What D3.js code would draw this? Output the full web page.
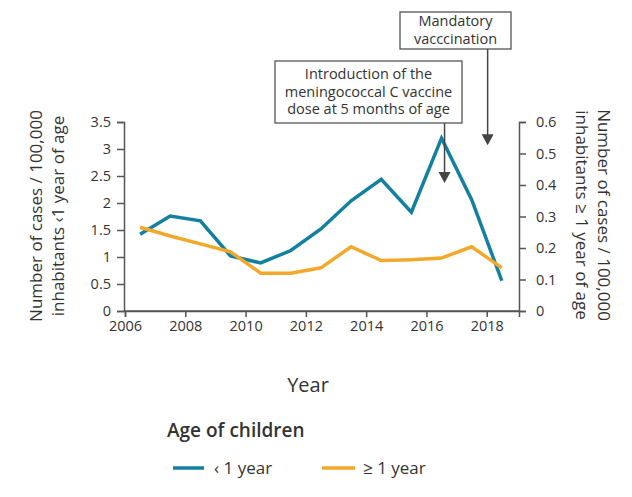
<!DOCTYPE html>
<html><head><meta charset="utf-8">
<script src="https://cdn.jsdelivr.net/npm/d3@7"></script>
<style>body{margin:0;background:#fff}svg{display:block;font-family:"Open Sans","Noto Sans",sans-serif}</style>
</head><body>
<svg id="c" width="632" height="497"></svg>
<script>
const years = [2006,2007,2008,2009,2010,2011,2012,2013,2014,2015,2016,2017,2018];
const under1 = [1.42,1.76,1.67,1.02,0.89,1.12,1.52,2.04,2.44,1.83,3.20,2.06,0.56];
const over1 = [0.266,0.238,0.213,0.188,0.12,0.12,0.137,0.204,0.16,0.163,0.168,0.204,0.137];
const xTicks = [2006,2008,2010,2012,2014,2016,2018];
const leftTicks = [0,0.5,1,1.5,2,2.5,3,3.5];
const rightTicks = [0,0.1,0.2,0.3,0.4,0.5,0.6];
const seriesNames = ["‹ 1 year","≥ 1 year"];
const colors = ["#12809e","#f2a92b"];
const annotations = [
  {lines:["Introduction of the","meningococcal C vaccine","dose at 5 months of age"], year:2016.6, tip:2.37},
  {lines:["Mandatory","vacccination"], year:2018.03, tip:3.07}
];

const svg = d3.select("#c");
const x = d3.scaleLinear().domain([2006,2019.07]).range([125,519]);
const yL = d3.scaleLinear().domain([0,3.5]).range([311,122]);
const yR = d3.scaleLinear().domain([0,0.6]).range([311,122]);
const axisCol = "#555", txtCol = "#333";

function styleAxis(g){
  g.attr("font-family",null).attr("font-size",null);
  g.selectAll("path,line").attr("stroke",axisCol).attr("stroke-width",1.5);
  g.selectAll("text").attr("fill",txtCol).style("font-size","14.5px");
}
svg.append("g").attr("transform","translate(0,311)")
  .call(d3.axisBottom(x).tickValues(xTicks).tickFormat(d3.format("d")).tickSizeOuter(0).tickSize(6).tickPadding(4))
  .call(styleAxis);
svg.append("g").attr("transform","translate(124,0)")
  .call(d3.axisLeft(yL).tickValues(leftTicks).tickFormat(d=>String(d)).tickSizeOuter(0).tickSize(7).tickPadding(6))
  .call(styleAxis);
svg.append("g").attr("transform","translate(519,0)")
  .call(d3.axisRight(yR).tickValues(rightTicks).tickFormat(d=>String(d)).tickSizeOuter(0).tickSize(7).tickPadding(10))
  .call(styleAxis);
svg.append("line").attr("x1",124).attr("x2",519).attr("y1",311).attr("y2",311).attr("stroke",axisCol).attr("stroke-width",1.5);

const lineL = d3.line().x((d,i)=>x(years[i]+0.5)).y(d=>yL(d));
const lineR = d3.line().x((d,i)=>x(years[i]+0.5)).y(d=>yR(d));
svg.append("path").datum(under1).attr("d",lineL).attr("fill","none").attr("stroke",colors[0]).attr("stroke-width",3.5);
svg.append("path").datum(over1).attr("d",lineR).attr("fill","none").attr("stroke",colors[1]).attr("stroke-width",3.5);

const boxes = [{x:275,y:61,w:187,h:62,ty:74},{x:400,y:12,w:111,h:37,ty:21}];
annotations.forEach((a,k)=>{
  const b = boxes[k], ax = x(a.year), tipY = yL(a.tip);
  svg.append("line").attr("x1",ax).attr("x2",ax).attr("y1",b.y+b.h).attr("y2",tipY-10).attr("stroke","#444").attr("stroke-width",1.5);
  svg.append("path").attr("d",`M${ax-6},${tipY-11}L${ax+6},${tipY-11}L${ax},${tipY}Z`).attr("fill","#444");
  svg.append("rect").attr("x",b.x).attr("y",b.y).attr("width",b.w).attr("height",b.h).attr("fill","#fff").attr("stroke","#555").attr("stroke-width",1.3);
  a.lines.forEach((l,i)=>svg.append("text").attr("x",b.x+b.w/2).attr("y",b.ty+i*17.5).attr("dy","0.35em")
    .attr("text-anchor","middle").attr("fill",txtCol).style("font-size","14.5px").text(l));
});

const lt = svg.append("text").attr("transform","translate(36,216) rotate(-90)").attr("text-anchor","middle").attr("fill",txtCol).style("font-size","17px");
lt.append("tspan").attr("x",0).attr("dy","0.35em").text("Number of cases / 100,000");
lt.append("tspan").attr("x",0).attr("dy","1.3em").text("inhabitants ‹1 year of age");
const rt = svg.append("text").attr("transform","translate(604,215) rotate(90)").attr("text-anchor","middle").attr("fill",txtCol).style("font-size","17px");
rt.append("tspan").attr("x",0).attr("dy","0.35em").text("Number of cases / 100,000");
rt.append("tspan").attr("x",0).attr("dy","1.3em").text("inhabitants ≥ 1 year of age");
svg.append("text").attr("x",308).attr("y",385).attr("dy","0.35em").attr("text-anchor","middle").attr("fill",txtCol).style("font-size","20px").text("Year");

svg.append("text").attr("x",167).attr("y",437).attr("fill",txtCol).style("font-size","19px").style("font-weight","600").text("Age of children");
const lg = [{x1:173,x2:204,tx:214},{x1:322,x2:355,tx:363}];
seriesNames.forEach((s,i)=>{
  svg.append("line").attr("x1",lg[i].x1).attr("x2",lg[i].x2).attr("y1",468).attr("y2",468).attr("stroke",colors[i]).attr("stroke-width",3.5);
  svg.append("text").attr("x",lg[i].tx).attr("y",468).attr("dy","0.35em").attr("fill",txtCol).style("font-size","17px").text(s);
});
</script>
</body></html>
